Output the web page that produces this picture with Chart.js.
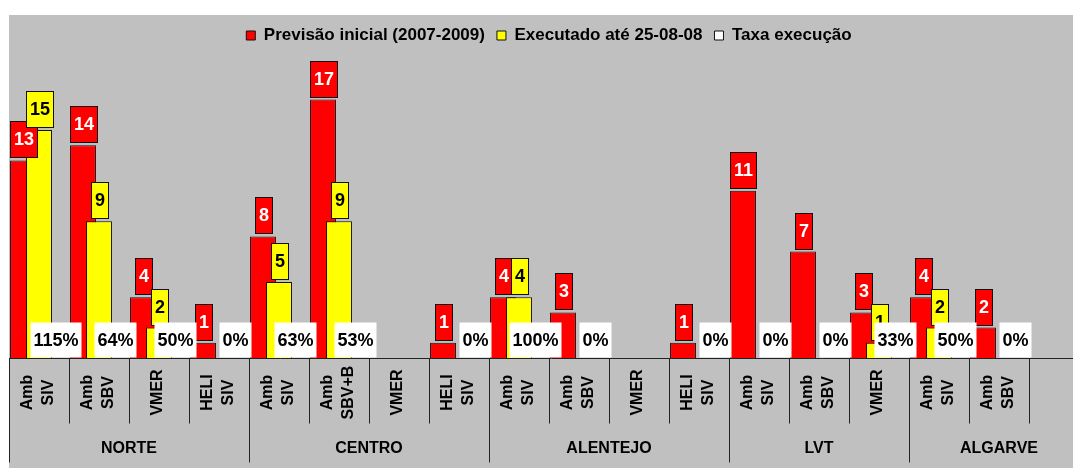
<!DOCTYPE html>
<html>
<head>
<meta charset="utf-8">
<script src="https://cdn.jsdelivr.net/npm/chart.js@4/dist/chart.umd.min.js"></script>
<style>
  html, body { margin: 0; padding: 0; background: #fff; overflow: hidden; }
  #wrap { position: absolute; left: 9px; top: 15px; width: 1085px; height: 453px; background: #c0c0c0; }
</style>
</head>
<body>
<div id="wrap"><canvas id="chart"></canvas></div>
<script>
'use strict';

// Section 1: data
const categoryLabels = [
    ['Amb', 'SIV'], ['Amb', 'SBV'], ['VMER'], ['HELI', 'SIV'],
    ['Amb', 'SIV'], ['Amb', 'SBV+B'], ['VMER'], ['HELI', 'SIV'],
    ['Amb', 'SIV'], ['Amb', 'SBV'], ['VMER'], ['HELI', 'SIV'],
    ['Amb', 'SIV'], ['Amb', 'SBV'], ['VMER'],
    ['Amb', 'SIV'], ['Amb', 'SBV'], ['']
];
const regionNames = ['NORTE', 'CENTRO', 'ALENTEJO', 'LVT', 'ALGARVE'];
const regionSizes = [4, 4, 4, 3, 3];

const previsao = [13, 14, 4, 1, 8, 17, null, 1, 4, 3, null, 1, 11, 7, 3, 4, 2, null];
const executado = [15, 9, 2, 0, 5, 9, null, 0, 4, 0, null, 0, 0, 0, 1, 2, 0, null];
const taxa = [115, 64, 50, 0, 63, 53, null, 0, 100, 0, null, 0, 0, 0, 33, 50, 0, null];

const FONT = "'Liberation Sans', Arial, sans-serif";

// Section 2: plugins
// draw red first so the yellow bars sit on top of it; taxa bars stay invisible
const drawOrder = {
    id: 'drawOrder',
    beforeDatasetsDraw(chart) {
        [0, 1].forEach(i => chart.getDatasetMeta(i).controller.draw());
        return false;
    }
};

function labelBox(ctx, text, cx, bottom, h, pad, fill, stroke, color) {
    ctx.font = `bold 18px ${FONT}`;
    const w = Math.round(ctx.measureText(text).width) + pad;
    const left = Math.round(cx - w / 2) + 0.5;
    const top = Math.round(bottom - h) + 0.5;
    ctx.fillStyle = fill;
    ctx.fillRect(left, top, w, h);
    if (stroke) {
        ctx.strokeStyle = stroke;
        ctx.lineWidth = 1;
        ctx.strokeRect(left, top, w, h);
    }
    ctx.fillStyle = color;
    ctx.textAlign = 'center';
    ctx.textBaseline = 'middle';
    ctx.fillText(text, left + w / 2, top + h / 2 + 1);
}

const labelsAndAxis = {
    id: 'labelsAndAxis',
    afterDraw(chart) {
        const ctx = chart.ctx;
        const area = chart.chartArea;
        const x = chart.scales.x;
        ctx.save();

        // value boxes above the bars
        const styles = [
            {fill: '#ff0000', color: '#ffffff'},
            {fill: '#ffff00', color: '#000000'},
        ];
        [0, 1].forEach(d => {
            const meta = chart.getDatasetMeta(d);
            const values = chart.data.datasets[d].data;
            meta.data.forEach((bar, i) => {
                if (!values[i]) return;
                labelBox(ctx, String(values[i]), bar.x, bar.y - 3, 36, 7, styles[d].fill, '#111', styles[d].color);
            });
        });

        // taxa boxes at the foot of the plot
        const taxaMeta = chart.getDatasetMeta(2);
        taxaMeta.data.forEach((bar, i) => {
            if (taxa[i] == null) return;
            labelBox(ctx, `${taxa[i]}%`, bar.x, area.bottom - 1, 35, 6, '#ffffff', null, '#000000');
        });

        // category axis
        const bottom = Math.round(area.bottom) + 0.5;
        const catWidth = x.getPixelForValue(1) - x.getPixelForValue(0);
        ctx.strokeStyle = '#222';
        ctx.lineWidth = 1;
        ctx.beginPath();
        ctx.moveTo(area.left, bottom);
        ctx.lineTo(chart.width, bottom);
        ctx.stroke();

        const groupStarts = [0];
        regionSizes.forEach(n => groupStarts.push(groupStarts[groupStarts.length - 1] + n));

        for (let i = 0; i <= categoryLabels.length; i++) {
            const bx = Math.round(x.getPixelForValue(i) - catWidth / 2) + 0.5;
            const long = groupStarts.includes(i);
            ctx.beginPath();
            ctx.moveTo(bx, bottom);
            ctx.lineTo(bx, bottom + (long ? 104 : 65));
            ctx.stroke();
        }

        ctx.fillStyle = '#000';
        ctx.font = `bold 16px ${FONT}`;
        ctx.textAlign = 'center';
        ctx.textBaseline = 'middle';
        categoryLabels.forEach((lines, i) => {
            const cx = x.getPixelForValue(i) - 1;
            ctx.save();
            ctx.translate(cx, bottom + 34);
            ctx.rotate(-Math.PI / 2);
            lines.forEach((line, j) => {
                ctx.fillText(line, 0, (j - (lines.length - 1) / 2) * 21);
            });
            ctx.restore();
        });

        regionNames.forEach((name, r) => {
            const first = groupStarts[r];
            const last = groupStarts[r + 1] - 1;
            const cx = (x.getPixelForValue(first) + x.getPixelForValue(last)) / 2;
            ctx.fillText(name, cx, bottom + 90);
        });

        ctx.restore();
    }
};

// Section 3: chart
const chartData = {
    labels: categoryLabels,
    datasets: [
        {
            label: 'Previsão inicial (2007-2009)',
            data: previsao,
            backgroundColor: '#ff0000',
            borderColor: '#111',
            borderWidth: 1,
        },
        {
            label: 'Executado até 25-08-08',
            data: executado,
            backgroundColor: '#ffff00',
            borderColor: '#111',
            borderWidth: 1,
        },
        {
            label: 'Taxa execução',
            data: taxa,
            yAxisID: 'y2',
            backgroundColor: '#ffffff',
            borderColor: '#111',
            borderWidth: 1,
        },
    ],
};

new Chart(document.querySelector('#chart'), {
    type: 'bar',
    data: chartData,
    plugins: [drawOrder, labelsAndAxis],
    options: {
        responsive: true,
        maintainAspectRatio: false,
        animation: false,
        categoryPercentage: 0.8,
        barPercentage: 1.62,
        layout: {
            padding: {left: 0, right: 5, top: 0, bottom: 110},
        },
        scales: {
            x: {display: false},
            y: {display: false, min: 0, max: 20},
            y2: {display: false, min: 0, max: 1000},
        },
        plugins: {
            legend: {
                position: 'top',
                labels: {
                    boxWidth: 9,
                    boxHeight: 9,
                    padding: 12,
                    color: '#000',
                    font: {family: FONT, size: 17, weight: 'bold'},
                },
            },
            tooltip: {enabled: false},
        },
    },
});
</script>
</body>
</html>
